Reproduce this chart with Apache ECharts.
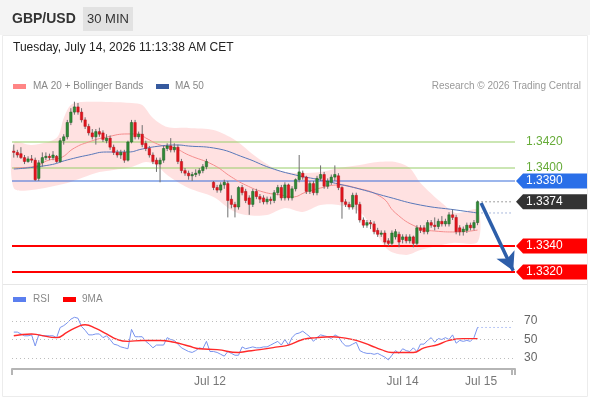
<!DOCTYPE html>
<html><head><meta charset="utf-8">
<script src="https://cdn.jsdelivr.net/npm/echarts@6.0.0/dist/echarts.min.js"></script>
<style>html,body{margin:0;padding:0;background:#fff}#c{width:590px;height:400px}</style>
</head><body><div id="c"></div>
<script>
// ---- data ----
const ohlc = [
 [1.3413,1.3412,1.3408,1.3418],[1.3412,1.3410,1.3408,1.3414],[1.3411,1.3408,1.3407,1.3416],[1.3408,1.3405,1.3403,1.3410],[1.3405,1.3407,1.3404,1.3409],
 [1.3407,1.3406,1.3404,1.3410],[1.3406,1.3391,1.3390,1.3408],[1.3392,1.3404,1.3390,1.3406],[1.3404,1.3408,1.3401,1.3412],[1.3408,1.3409,1.3406,1.3412],
 [1.3409,1.3408,1.3406,1.3411],[1.3408,1.3410,1.3406,1.3413],[1.3409,1.3405,1.3404,1.3410],[1.3405,1.3421,1.3404,1.3423],[1.3421,1.3424,1.3418,1.3426],
 [1.3424,1.3435,1.3422,1.3437],[1.3435,1.3443,1.3433,1.3446],[1.3443,1.3447,1.3441,1.3451],[1.3447,1.3443,1.3441,1.3450],[1.3443,1.3437,1.3435,1.3446],
 [1.3437,1.3432,1.3430,1.3439],[1.3432,1.3427,1.3425,1.3434],[1.3427,1.3424,1.3422,1.3430],[1.3424,1.3428,1.3418,1.3430],[1.3428,1.3426,1.3424,1.3431],
 [1.3427,1.3422,1.3420,1.3429],[1.3421,1.3423,1.3419,1.3426],[1.3423,1.3416,1.3414,1.3425],[1.3416,1.3412,1.3410,1.3418],[1.3412,1.3410,1.3408,1.3414],
 [1.3410,1.3412,1.3407,1.3414],[1.3412,1.3406,1.3404,1.3414],[1.3406,1.3420,1.3405,1.3421],[1.3420,1.3435,1.3419,1.3437],[1.3435,1.3424,1.3422,1.3437],
 [1.3424,1.3426,1.3422,1.3428],[1.3426,1.3418,1.3416,1.3433],[1.3419,1.3415,1.3413,1.3421],[1.3415,1.3410,1.3408,1.3417],[1.3410,1.3405,1.3403,1.3412],
 [1.3406,1.3403,1.3397,1.3408],[1.3403,1.3406,1.3389,1.3408],[1.3406,1.3415,1.3404,1.3417],[1.3415,1.3417,1.3413,1.3419],[1.3417,1.3414,1.3412,1.3423],
 [1.3414,1.3416,1.3412,1.3419],[1.3416,1.3405,1.3403,1.3418],[1.3405,1.3398,1.3396,1.3407],[1.3398,1.3396,1.3394,1.3400],[1.3396,1.3394,1.3391,1.3398],
 [1.3394,1.3395,1.3390,1.3397],[1.3395,1.3396,1.3393,1.3399],[1.3396,1.3398,1.3394,1.3400],[1.3398,1.3401,1.3396,1.3403],[1.3401,1.3405,1.3399,1.3407],
 null,[1.3389,1.3385,1.3383,1.3390],[1.3385,1.3383,1.3381,1.3387],[1.3383,1.3387,1.3381,1.3389],[1.3387,1.3389,1.3384,1.3391],
 [1.3388,1.3375,1.3362,1.3390],[1.3376,1.3372,1.3369,1.3379],[1.3372,1.3370,1.3362,1.3374],[1.3370,1.3385,1.3368,1.3386],[1.3385,1.3381,1.3379,1.3387],
 [1.3382,1.3375,1.3373,1.3384],[1.3377,1.3372,1.3364,1.3379],[1.3372,1.3382,1.3370,1.3384],[1.3382,1.3378,1.3376,1.3384],[1.3378,1.3376,1.3373,1.3380],
 [1.3377,1.3374,1.3372,1.3379],[1.3374,1.3376,1.3372,1.3378],[1.3376,1.3375,1.3372,1.3378],[1.3375,1.3381,1.3373,1.3383],[1.3381,1.3385,1.3379,1.3387],
 [1.3385,1.3377,1.3375,1.3387],[1.3377,1.3387,1.3375,1.3389],[1.3387,1.3377,1.3375,1.3388],[1.3377,1.3384,1.3375,1.3386],[1.3384,1.3391,1.3382,1.3392],
 [1.3391,1.3397,1.3389,1.3410],[1.3396,1.3393,1.3391,1.3398],[1.3393,1.3382,1.3380,1.3394],[1.3382,1.3388,1.3380,1.3390],[1.3388,1.3381,1.3379,1.3390],
 [1.3381,1.3392,1.3379,1.3394],[1.3392,1.3395,1.3390,1.3402],[1.3395,1.3386,1.3384,1.3397],[1.3386,1.3390,1.3384,1.3392],[1.3389,1.3393,1.3387,1.3395],
 [1.3393,1.3395,1.3390,1.3402],[1.3394,1.3385,1.3383,1.3396],[1.3385,1.3374,1.3361,1.3386],[1.3374,1.3372,1.3370,1.3376],[1.3372,1.3370,1.3368,1.3374],
 [1.3370,1.3379,1.3368,1.3381],[1.3379,1.3372,1.3365,1.3381],[1.3372,1.3360,1.3358,1.3374],[1.3360,1.3356,1.3354,1.3362],[1.3356,1.3358,1.3354,1.3360],
 [1.3358,1.3357,1.3353,1.3360],[1.3357,1.3351,1.3349,1.3359],[1.3352,1.3349,1.3347,1.3354],[1.3349,1.3350,1.3347,1.3352],[1.3350,1.3343,1.3341,1.3352],
 [1.3344,1.3342,1.3340,1.3346],[1.3342,1.3350,1.3340,1.3352],[1.3347,1.3351,1.3345,1.3353],[1.3349,1.3343,1.3339,1.3351],[1.3345,1.3347,1.3342,1.3349],
 [1.3347,1.3344,1.3342,1.3349],[1.3344,1.3347,1.3342,1.3349],[1.3347,1.3342,1.3339,1.3348],[1.3342,1.3354,1.3340,1.3356],[1.3354,1.3352,1.3350,1.3356],
 [1.3354,1.3351,1.3349,1.3356],[1.3351,1.3358,1.3349,1.3360],[1.3358,1.3356,1.3354,1.3360],[1.3356,1.3355,1.3352,1.3362],[1.3355,1.3359,1.3353,1.3361],
 [1.3359,1.3357,1.3355,1.3363],[1.3357,1.3359,1.3355,1.3361],[1.3357,1.3364,1.3355,1.3366],[1.3364,1.3362,1.3360,1.3368],[1.3362,1.3351,1.3349,1.3364],
 [1.3354,1.3351,1.3348,1.3356],[1.3351,1.3353,1.3348,1.3355],[1.3352,1.3356,1.3350,1.3358],[1.3356,1.3354,1.3352,1.3358],[1.3354,1.3358,1.3352,1.3360],
 [1.3358,1.3374,1.3356,1.3375]
];
const ma20 = [[0,1.3400],[5,1.34008],[10,1.34062],[13,1.34077],[17,1.34154],[21,1.34200],[26,1.34238],[32,1.34262],[35,1.34262],[37,1.34231],[41,1.34177],[45,1.34154],[49,1.34100],[56,1.34023],[61,1.33931],[65,1.33869],[70,1.33815],[75,1.33792],[78,1.33777],[82,1.33815],[86,1.33846],[91,1.33869],[95,1.33854],[103,1.33777],[107,1.33654],[113,1.33546],[118,1.33515],[124,1.33508],[130,1.33523]];
const ma50 = [[0,1.33992],[10,1.34023],[15,1.34062],[21,1.34100],[26,1.34123],[32,1.34123],[36,1.34146],[41,1.34169],[46,1.34177],[49,1.34169],[56,1.34154],[65,1.34077],[72,1.34000],[79,1.33946],[86,1.33908],[91,1.33877],[97,1.33838],[105,1.33777],[114,1.33715],[124,1.33677],[130,1.33654]];
const bbUpper = [[0,1.34192],[5,1.34177],[12,1.34231],[14,1.34385],[16,1.34485],[19,1.34508],[27,1.34508],[33,1.34500],[36,1.34485],[39,1.34385],[43,1.34315],[49,1.34308],[56,1.34292],[62,1.34215],[68,1.34085],[74,1.33985],[79,1.33962],[86,1.33969],[91,1.34000],[97,1.34023],[102,1.34046],[107,1.34046],[111,1.34000],[114,1.33885],[120,1.33731],[124,1.33654],[130,1.33677]];
const bbLower = [[0,1.33846],[5,1.33831],[15,1.33885],[19,1.33923],[24,1.33969],[28,1.33985],[33,1.34008],[37,1.34046],[40,1.34023],[43,1.33946],[49,1.33846],[56,1.33777],[61,1.33677],[65,1.33638],[71,1.33638],[76,1.33692],[81,1.33662],[86,1.33715],[91,1.33715],[97,1.33662],[101,1.33523],[105,1.33369],[110,1.33331],[114,1.33369],[123,1.33423],[130,1.33431]];
const rsi = [58,58,56,54,54,55,43,55,54,54,54,54,52,63,65,68,72,74,73,64,60,55,55,56,56,52,54,50,45,44,42,41,40,61,53,53,53,48,45,41,44,44,44,52,50,49,45,41,39,37,36,38,41,40,48,37,37,36,34,32,37,35,33,33,42,40,41,42,41,41,42,42,44,46,48,44,50,44,52,56,57,59,56,53,48,52,55,54,53,51,55,53,47,43,43,45,47,38,36,35,35,34,35,33,31,28,33,38,35,40,38,37,41,37,45,45,49,52,47,51,50,52,50,55,46,49,48,49,48,52,63];
const rsiMA = [[0,54],[5,56],[7,55],[12,52],[15,58],[18,64],[20,66],[23,62],[26,56],[29,50],[32,48],[36,49],[41,49],[45,47],[49,43],[52,40],[57,39],[63,36],[65,37],[69,39],[74,42],[77,44],[81,50],[85,52],[89,53],[92,52],[96,49],[100,43.5],[103,39],[106,36],[108,36],[112,36],[115,41],[119,44.6],[122,49],[126,51],[130,51]];
const levels = [1.3420, 1.3400, 1.3390, 1.3340, 1.3320];
const lastPrice = 1.3374;
const ma50Last = 1.33654;
const rsiLast = 63;
const rsiLevels = [70, 50, 30];
const tagPrices = [1.3420, 1.3400, 1.3390, 1.3374, 1.3340, 1.3320];
const tagTexts = ['1.3420', '1.3400', '1.3390', '1.3374', '1.3340', '1.3320'];
const arrowFrom = [131, 1.3373];
const arrowTo = [140, 1.3321];
const tickIdx = [55, 109, 131];
const tickLabels = ['Jul 12', 'Jul 14', 'Jul 15'];
const nCats = 141;

// ---- styles ----
const levelColors = ['#97cd68', '#97cd68', '#3b6fd9', '#ff0000', '#ff0000'];
const levelWidths = [1, 1, 1.2, 2, 2];
const tagStyle = ['plain', 'plain', '#2a6fe8', '#333333', '#ff0000', '#ff0000'];
const FONT = '"Liberation Sans", Arial, sans-serif';
const categories = Array.from({length: nCats}, (_, i) => 'k' + i);
const candleData = ohlc.map((d, i) => d ? [i, d[0], d[1], d[2], d[3]] : null).filter(Boolean);
const rsiData = rsi.map((v, i) => [i, v]);

const chart = echarts.init(document.getElementById('c'), null, {renderer: 'canvas'});

function renderCandle(params, api) {
  const i = api.value(0), o = api.value(1), c = api.value(2), l = api.value(3), h = api.value(4);
  const po = api.coord([i, o]), pc = api.coord([i, c]), pl = api.coord([i, l]), ph = api.coord([i, h]);
  const w = api.size([1, 0])[0] * 0.68;
  const up = c >= o;
  const top = Math.min(po[1], pc[1]), bot = Math.max(po[1], pc[1]);
  return {type: 'group', children: [
    {type: 'line', shape: {x1: ph[0], y1: ph[1], x2: pl[0], y2: pl[1]}, style: {stroke: '#6f6f6f', lineWidth: 1}},
    {type: 'rect', shape: {x: po[0] - w / 2, y: top, width: w, height: Math.max(bot - top, 1)},
     style: {fill: up ? '#2f8a36' : '#e3141d', stroke: up ? '#1d5e22' : '#b3131a', lineWidth: 0.5}}
  ]};
}
function renderBand(params, api) {
  const pts = bbUpper.map(p => api.coord(p)).concat(bbLower.slice().reverse().map(p => api.coord(p)));
  return {type: 'polygon', shape: {points: pts, smooth: 0.3}, style: {fill: 'rgba(255,195,195,0.5)'}};
}
function renderLevel(params, api) {
  const cs = params.coordSys;
  const y = api.coord([0, api.value(1)])[1];
  const k = params.dataIndex;
  return {type: 'line', shape: {x1: cs.x, y1: y, x2: cs.x + cs.width, y2: y},
          style: {stroke: levelColors[k], lineWidth: levelWidths[k]}};
}
function renderTag(params, api) {
  const cs = params.coordSys;
  const x0 = cs.x + cs.width;
  const y = api.coord([nCats - 1, api.value(1)])[1];
  const k = params.dataIndex;
  const st = tagStyle[k];
  const txt = tagTexts[k];
  if (st === 'plain') {
    return {type: 'text', x: x0 + 11, y: y, style: {text: txt, fill: '#66ab38', font: '12px ' + FONT, textVerticalAlign: 'middle'}};
  }
  return {type: 'group', children: [
    {type: 'polygon', shape: {points: [[x0 + 1, y], [x0 + 8, y - 7.5], [x0 + 72, y - 7.5], [x0 + 72, y + 7.5], [x0 + 8, y + 7.5]]}, style: {fill: st}},
    {type: 'text', x: x0 + 11, y: y, style: {text: txt, fill: '#ffffff', font: '12px ' + FONT, textVerticalAlign: 'middle'}}
  ]};
}

const option = {
  animation: false,
  textStyle: {fontFamily: FONT},
  grid: [
    {left: 12, right: 75, top: 90, height: 195},
    {left: 12, right: 75, top: 309.9, height: 59.2}
  ],
  xAxis: [
    {type: 'category', gridIndex: 0, data: categories, boundaryGap: true, show: false},
    {type: 'category', gridIndex: 1, data: categories, boundaryGap: true,
     axisLine: {show: true, lineStyle: {color: '#b5b5b5', width: 2}},
     axisTick: {show: true, interval: (i) => i === 0 || i === nCats - 1, length: 6, lineStyle: {color: '#b5b5b5', width: 2}},
     axisLabel: {interval: (i) => tickIdx.includes(i), formatter: (v, i) => { const k = tickIdx.indexOf(i); return k >= 0 ? tickLabels[k] : ''; },
       color: '#777', fontSize: 12, margin: 7, fontFamily: FONT},
     splitLine: {show: false}}
  ],
  yAxis: [
    {type: 'value', gridIndex: 0, min: 1.3310, max: 1.3460, show: false, splitLine: {show: false}},
    {type: 'value', gridIndex: 1, min: 18, max: 82, show: false, splitLine: {show: false}}
  ],
  series: [
    {type: 'custom', name: 'band', xAxisIndex: 0, yAxisIndex: 0, data: [[0, 1.34]], renderItem: renderBand, z: 1, silent: true, clip: false},
    {type: 'custom', name: 'levels', xAxisIndex: 0, yAxisIndex: 0, data: levels.map(v => [0, v]), renderItem: renderLevel, z: 2, silent: true, clip: false},
    {type: 'line', name: 'MA 20', xAxisIndex: 0, yAxisIndex: 0, data: ma20, smooth: true, showSymbol: false, z: 3,
     lineStyle: {color: '#f58d8d', width: 1}, silent: true},
    {type: 'line', name: 'MA 50', xAxisIndex: 0, yAxisIndex: 0, data: ma50, smooth: true, showSymbol: false, z: 3,
     lineStyle: {color: '#5877b9', width: 1}, silent: true},
    {type: 'custom', name: 'candles', xAxisIndex: 0, yAxisIndex: 0, data: candleData, renderItem: renderCandle,
     encode: {x: 0, y: [1, 2, 3, 4]}, z: 4},
    {type: 'line', name: 'last', xAxisIndex: 0, yAxisIndex: 0, data: [[130, lastPrice], [nCats - 1, lastPrice]], showSymbol: false, z: 3,
     lineStyle: {color: '#444', width: 1, type: [1, 3]}, silent: true},
    {type: 'line', name: 'ma50last', xAxisIndex: 0, yAxisIndex: 0, data: [[130, ma50Last], [nCats - 1, ma50Last]], showSymbol: false, z: 3,
     lineStyle: {color: '#5877b9', width: 1, type: [1, 3]}, silent: true},
    {type: 'line', name: 'arrow', xAxisIndex: 0, yAxisIndex: 0, data: [], z: 6,
     markLine: {silent: true, symbol: ['none', 'arrow'], symbolSize: [15, 18], label: {show: false},
       lineStyle: {color: '#2d5ea9', width: 3.5, type: 'solid'},
       data: [[{coord: arrowFrom}, {coord: arrowTo}]], animation: false}},
    {type: 'custom', name: 'tags', xAxisIndex: 0, yAxisIndex: 0, data: tagPrices.map(p => [nCats - 1, p]), renderItem: renderTag, z: 7, clip: false, silent: true},
    {type: 'line', name: 'RSI', xAxisIndex: 1, yAxisIndex: 1, data: rsiData, showSymbol: false, z: 3,
     lineStyle: {color: '#7893ee', width: 1}, silent: true,
     markLine: {silent: true, symbol: ['none', 'none'],
       lineStyle: {color: '#bdbdbd', width: 1, type: [1, 3]},
       label: {show: true, position: 'end', distance: 9, formatter: '{c}', color: '#666', fontSize: 12, fontFamily: FONT},
       data: rsiLevels.map(v => ({yAxis: v})), animation: false}},
    {type: 'line', name: 'rsiLast', xAxisIndex: 1, yAxisIndex: 1, data: [[130, rsiLast], [nCats - 1, rsiLast]], showSymbol: false, z: 3,
     lineStyle: {color: '#7893ee', width: 1, type: [1, 3]}, silent: true},
    {type: 'line', name: '9MA', xAxisIndex: 1, yAxisIndex: 1, data: rsiMA, smooth: true, showSymbol: false, z: 4,
     lineStyle: {color: '#ff2a2a', width: 1.4}, silent: true}
  ],
  graphic: [
    {type: 'rect', left: 0, top: 0, shape: {width: 590, height: 35}, style: {fill: '#f4f4f4'}, z: -1},
    {type: 'rect', shape: {x: 2.5, y: 35.5, width: 585, height: 361}, style: {fill: 'none', stroke: '#ececec', lineWidth: 1}, z: -1},
    {type: 'line', shape: {x1: 3, y1: 284.5, x2: 587, y2: 284.5}, style: {stroke: '#e6e6e6', lineWidth: 1}, z: -1},
    {type: 'text', x: 12, y: 19, style: {text: 'GBP/USD', fill: '#333', font: 'bold 14px ' + FONT, textVerticalAlign: 'middle'}},
    {type: 'rect', shape: {x: 83, y: 7, width: 50, height: 24}, style: {fill: '#e2e2e2'}},
    {type: 'text', x: 108, y: 19, style: {text: '30 MIN', fill: '#333', font: '13px ' + FONT, textAlign: 'center', textVerticalAlign: 'middle'}},
    {type: 'text', x: 13, y: 48, style: {text: 'Tuesday, July 14, 2026 11:13:38 AM CET', fill: '#222', font: '12px ' + FONT, textVerticalAlign: 'middle'}},
    {type: 'rect', shape: {x: 13, y: 84, width: 13, height: 5}, style: {fill: '#ff8585'}},
    {type: 'text', x: 33, y: 86.5, style: {text: 'MA 20 + Bollinger Bands', fill: '#888', font: '10px ' + FONT, textVerticalAlign: 'middle'}},
    {type: 'rect', shape: {x: 156, y: 84, width: 13, height: 5}, style: {fill: '#365a9e'}},
    {type: 'text', x: 175, y: 86.5, style: {text: 'MA 50', fill: '#888', font: '10px ' + FONT, textVerticalAlign: 'middle'}},
    {type: 'text', x: 581, y: 86.5, style: {text: 'Research © 2026 Trading Central', fill: '#999', font: '10px ' + FONT, textAlign: 'right', textVerticalAlign: 'middle'}},
    {type: 'rect', shape: {x: 13, y: 297, width: 13, height: 5}, style: {fill: '#5b7fef'}},
    {type: 'text', x: 33, y: 299.5, style: {text: 'RSI', fill: '#888', font: '10px ' + FONT, textVerticalAlign: 'middle'}},
    {type: 'rect', shape: {x: 63, y: 297, width: 13, height: 5}, style: {fill: '#ff0000'}},
    {type: 'text', x: 82, y: 299.5, style: {text: '9MA', fill: '#888', font: '10px ' + FONT, textVerticalAlign: 'middle'}}
  ]
};
chart.setOption(option);
</script>
</body></html>
